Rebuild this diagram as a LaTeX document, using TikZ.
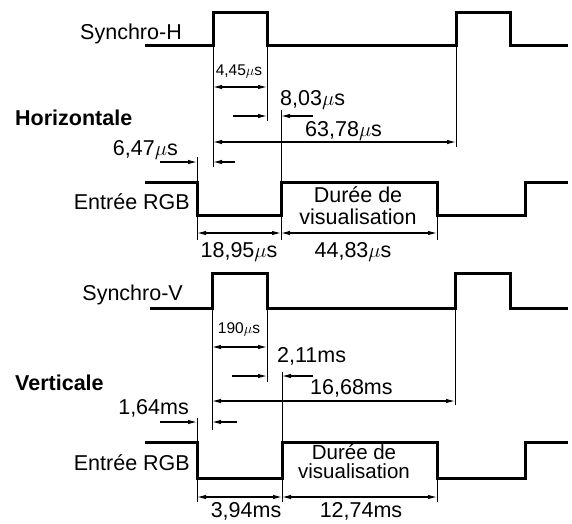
\documentclass[tikz,border=0pt]{standalone}
\usepackage{fontspec}
\setmainfont{Liberation Sans}
\usepackage{tikz}
\usetikzlibrary{arrows.meta}

\begin{document}
\begin{tikzpicture}[
  x=1pt, y=-1pt,
  every node/.style={inner sep=0pt, font=\fontsize{21.5}{22}\selectfont},
  signal/.style={line width=3pt, line join=miter},
  ext/.style={line width=0.9pt},
  dim/.style={line width=1.1pt, {Latex[length=9pt,width=4.5pt]}-{Latex[length=9pt,width=4.5pt]}},
  tipstart/.style={line width=1.1pt, {Latex[length=9pt,width=4.5pt]}-},
  smalllbl/.style={font=\fontsize{15.5}{17}\selectfont},
  title/.style={font=\fontsize{21.5}{22}\selectfont\bfseries},
]
\useasboundingbox (0,0) rectangle (572,523);

% ---------------- Horizontale ----------------
% edges of the signals
\coordinate (hs1) at (213,45);
\coordinate (hs2) at (267,45);
\coordinate (hs3) at (456,45);
\coordinate (hr1) at (197,182);
\coordinate (hr2) at (281,182);
\coordinate (hr3) at (437,182);

% Synchro-H
\draw[signal] (145,45) -- (hs1) |- (267,12) -- (hs2) -- (hs3) |- (510,12) |- (568,45);
\node[anchor=base east] (hsync) at (182,39.5) {Synchro-H};

% Entree RGB
\draw[signal] (145,182) -- (hr1) -- ++(0,33) -| (hr2) -- (hr3) -- ++(0,33) -| (525,182) -- (568,182);
\node[anchor=base east] (hrgb) at (190,209.5) {Entrée RGB};
\node[align=center] (hvis) at (358,205.5) {Durée de\\visualisation};

\node[title, anchor=base west] (horiz) at (15,125.5) {Horizontale};

% extension lines
\draw[ext] (hs1) -- (hs1 |- 0,167);
\draw[ext] (hs2) -- (hs2 |- 0,121);
\draw[ext] (hs3) -- (hs3 |- 0,147);
\draw[ext] (hr2) -- (hr2 |- 0,110);
\draw[ext] (hr1) -- (hr1 |- 0,157);
\draw[ext] (hr1 |- 0,215) -- (hr1 |- 0,240);
\draw[ext] (hr2 |- 0,215) -- (hr2 |- 0,240);
\draw[ext] (hr3 |- 0,215) -- (hr3 |- 0,240);

% durations
\draw[dim] (hs1 |- 0,87) -- (hs2 |- 0,87);
\node[smalllbl, anchor=base] (h445) at (239,75.5) {4,45$\mu$s};
\draw[tipstart] (hs2 |- 0,116) -- ++(-34,0);
\draw[tipstart] (hr2 |- 0,116) -- ++(32,0);
\node[anchor=base west] (h803) at (280,105.5) {8,03$\mu$s};
\draw[dim] (hs1 |- 0,142) -- (hs3 |- 0,142);
\node[anchor=base west] (h6378) at (305,136.5) {63,78$\mu$s};
\draw[tipstart] (hr1 |- 0,162) -- ++(-37,0);
\draw[tipstart] (hs1 |- 0,162) -- ++(22,0);
\node[anchor=base east] (h647) at (178,155.5) {6,47$\mu$s};
\draw[dim] (hr1 |- 0,233) -- (hr2 |- 0,233);
\draw[dim] (hr2 |- 0,233) -- (hr3 |- 0,233);
\node[anchor=base] (h1895) at (239,257.5) {18,95$\mu$s};
\node[anchor=base] (h4483) at (353,257.5) {44,83$\mu$s};

% ---------------- Verticale ----------------
\coordinate (vs1) at (212,308);
\coordinate (vs2) at (267,308);
\coordinate (vs3) at (455,308);
\coordinate (vr1) at (197,442);
\coordinate (vr2) at (282,442);
\coordinate (vr3) at (437,442);

% Synchro-V
\draw[signal] (150,308) -- (vs1) |- (267,273) -- (vs2) -- (vs3) |- (510,273) |- (568,308);
\node[anchor=base east] (vsync) at (183,300.5) {Synchro-V};

% Entree RGB
\draw[signal] (145,442) -- (vr1) -- ++(0,36) -| (vr2) -- (vr3) -- ++(0,36) -| (525,442) -- (568,442);
\node[anchor=base east] (vrgb) at (190,470.5) {Entrée RGB};
\node[align=center, font=\fontsize{20.5}{19}\selectfont] (vvis) at (354,462) {Durée de\\visualisation};

\node[title, anchor=base west] (vert) at (15,390.5) {Verticale};

% extension lines
\draw[ext] (vs1) -- (vs1 |- 0,430);
\draw[ext] (vs2) -- (vs2 |- 0,382);
\draw[ext] (vs3) -- (vs3 |- 0,405);
\draw[ext] (vr2) -- (vr2 |- 0,372);
\draw[ext] (vr1) -- (vr1 |- 0,418);
\draw[ext] (vr1 |- 0,478) -- (vr1 |- 0,502);
\draw[ext] (vr2 |- 0,478) -- (vr2 |- 0,502);
\draw[ext] (vr3 |- 0,478) -- (vr3 |- 0,502);

% durations
\draw[dim] (vs1 |- 0,347) -- (vs2 |- 0,347);
\node[smalllbl, anchor=base] (v190) at (239,333.5) {190$\mu$s};
\draw[tipstart] (vs2 |- 0,376) -- ++(-35,0);
\draw[tipstart] (vr2 |- 0,376) -- ++(31,0);
\node[anchor=base west] (v211) at (277,362.5) {2,11ms};
\draw[dim] (vs1 |- 0,401) -- (vs3 |- 0,401);
\node[anchor=base west] (v1668) at (310,394.5) {16,68ms};
\draw[tipstart] (vr1 |- 0,422) -- ++(-37,0);
\draw[tipstart] (vs1 |- 0,422) -- ++(25,0);
\node[anchor=base east] (v164) at (189,414.5) {1,64ms};
\draw[dim] (vr1 |- 0,497) -- (vr2 |- 0,497);
\draw[dim] (vr2 |- 0,497) -- (vr3 |- 0,497);
\node[anchor=base] (v394) at (246,517.5) {3,94ms};
\node[anchor=base] (v1274) at (361,517.5) {12,74ms};

\end{tikzpicture}
\end{document}
